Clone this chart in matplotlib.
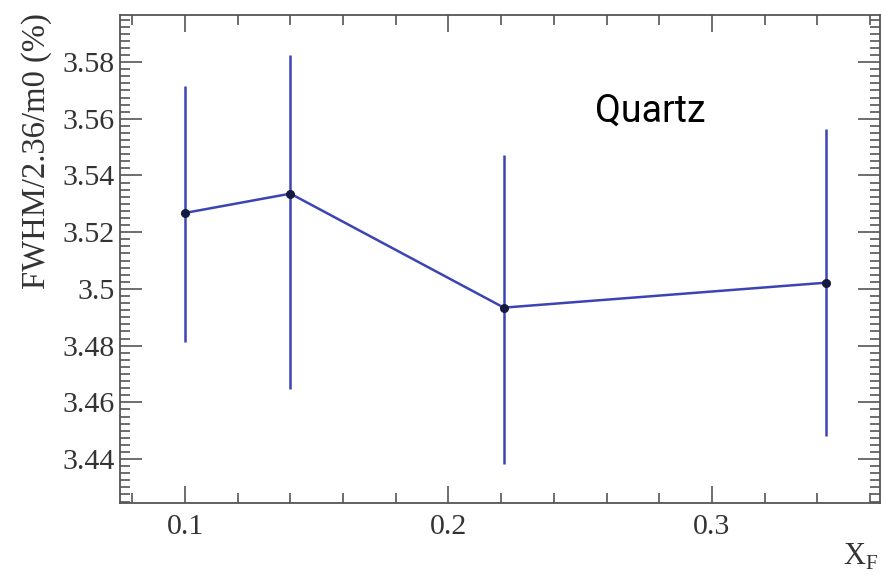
import matplotlib
matplotlib.use("Agg")
import matplotlib.pyplot as plt
from matplotlib.ticker import MultipleLocator, FuncFormatter

# Data
xf = [0.1, 0.14, 0.221, 0.3433]
fwhm = [3.5268, 3.5336, 3.4934, 3.5022]
err_up = [0.0447, 0.0489, 0.0540, 0.0542]
err_dn = [0.0456, 0.0690, 0.0553, 0.0540]
yticks = [3.44, 3.46, 3.48, 3.50, 3.52, 3.54, 3.56, 3.58]
xticks = [0.1, 0.2, 0.3]

fig = plt.figure(figsize=(8.81, 5.76), dpi=100)
ax = fig.add_axes([120/881, 73/576, 760/881, 488/576])

blue = "#3c44b4"
ax.errorbar(xf, fwhm, yerr=[err_dn, err_up], color=blue, lw=1.8,
            elinewidth=1.8, capsize=0, marker="o", ms=5.5,
            mfc="#141a40", mec="#141a40", zorder=3)

ax.set_xlim(0.0753, 0.3638)
ax.set_ylim(3.4245, 3.5966)

ax.set_xticks(xticks)
ax.set_yticks(yticks)
ax.xaxis.set_minor_locator(MultipleLocator(0.02))
ax.yaxis.set_minor_locator(MultipleLocator(0.0025))
ax.yaxis.set_major_formatter(FuncFormatter(lambda v, p: f"{v:.2f}".rstrip("0").rstrip(".") if abs(v-3.5) < 1e-9 else f"{v:.2f}"))
ax.xaxis.set_major_formatter(FuncFormatter(lambda v, p: f"{v:.1f}"))

serif = ["Liberation Serif", "DejaVu Serif"]
for lab in ax.get_xticklabels() + ax.get_yticklabels():
    lab.set_fontfamily(serif)
    lab.set_fontsize(21.5)
    lab.set_color("#333333")

ax.tick_params(axis="both", which="both", direction="in", top=True, right=True,
               color="#555555", width=1.2)
ax.tick_params(axis="y", which="major", length=16, pad=4)
ax.tick_params(axis="y", which="minor", length=7)
ax.tick_params(axis="x", which="major", length=12, pad=8)
ax.tick_params(axis="x", which="minor", length=7)
for s in ax.spines.values():
    s.set_color("#555555")
    s.set_linewidth(1.3)

fig.text(37/881, 1 - 13/576, "FWHM/2.36/m0 (%)", rotation=90, ha="center", va="top",
         fontsize=23.5, family=serif, color="#333333")
fig.text(878/881, 1 - 565/576, r"X$_\mathregular{F}$", ha="right", va="baseline",
         fontsize=22, family=serif, color="#333333")
fig.text(595/881, 1 - 122/576, "Quartz", ha="left", va="baseline",
         fontsize=27, family=["Roboto", "DejaVu Sans"], color="black")

fig.savefig("out.png", dpi=100, facecolor="white")
